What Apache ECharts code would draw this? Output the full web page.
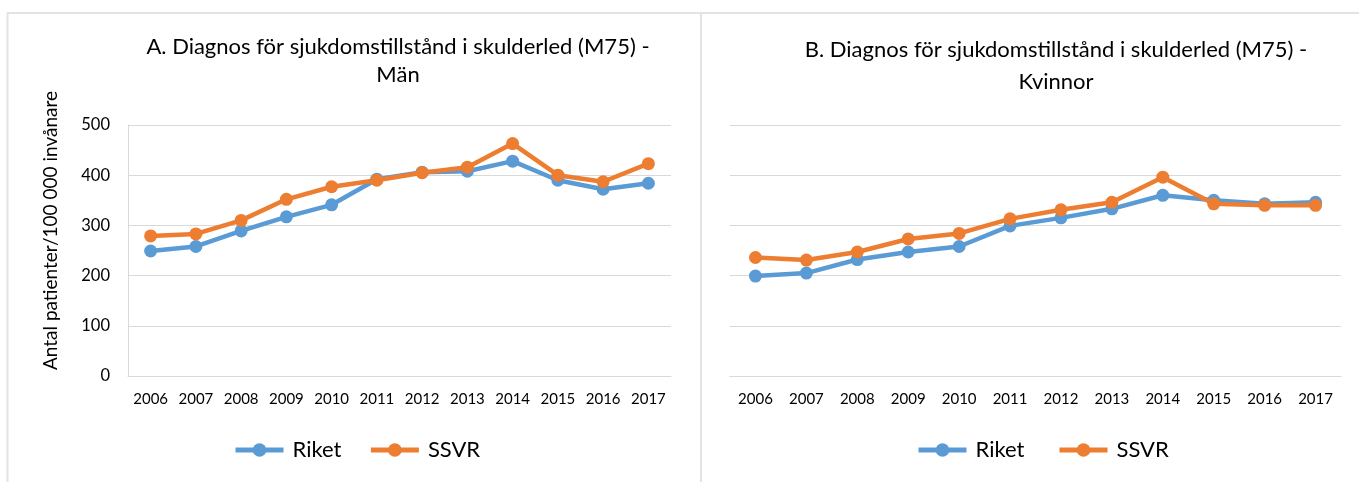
<!DOCTYPE html>
<html>
<head>
<meta charset="utf-8">
<script src="https://cdn.jsdelivr.net/npm/echarts@6/dist/echarts.min.js"></script>
<style>
html,body{margin:0;padding:0;background:#fff;}
#chart{width:1359px;height:482px;}
</style>
</head>
<body>
<div id="chart"></div>
<script>
var years = ['2006','2007','2008','2009','2010','2011','2012','2013','2014','2015','2016','2017'];
var menRiket = [249, 258, 289, 317, 341, 392, 406, 408, 428, 390, 372, 384];
var menSSVR  = [279, 283, 310, 352, 377, 390, 405, 416, 463, 400, 387, 423];
var womenRiket = [199, 205, 232, 247, 258, 299, 315, 333, 360, 350, 343, 346];
var womenSSVR  = [236, 231, 247, 273, 284, 313, 331, 346, 396, 343, 340, 340];
var yTicks = [0, 100, 200, 300, 400, 500];
var titleA = 'A. Diagnos för sjukdomstillstånd i skulderled (M75) -\nMän';
var titleB = 'B. Diagnos för sjukdomstillstånd i skulderled (M75) -\nKvinnor';
var yName = 'Antal patienter/100 000 invånare';

var FONT = 'Lato';
var BLUE = '#5B9BD5', ORANGE = '#ED7D31', GRID = '#d9d9d9';

function xAx(i){
  return {
    type:'category', gridIndex:i, data: years, boundaryGap:true,
    axisLine:{show:true, lineStyle:{color:GRID, width:1}},
    axisTick:{show:false},
    axisLabel:{color:'#000', fontFamily:FONT, fontSize:15, margin:16, interval:0, hideOverlap:false}
  };
}
function yAx(i, showLabels){
  return {
    type:'value', gridIndex:i, min:yTicks[0], max:yTicks[yTicks.length-1], interval:100,
    axisLine:{show:showLabels, lineStyle:{color:GRID, width:1}},
    axisTick:{show:false},
    splitLine:{show:true, lineStyle:{color:GRID, width:1}},
    axisLabel:{show:showLabels, color:'#000', fontFamily:FONT, fontSize:16.5, margin:18,
      formatter:function(v){return yTicks.indexOf(v)>=0 ? String(v) : '';}},
    name: showLabels ? yName : '',
    nameLocation:'middle', nameGap:68, nameRotate:90,
    nameTextStyle:{color:'#000', fontFamily:FONT, fontSize:19, padding:[0,0,0,40]}
  };
}
function ser(name, data, color, i){
  return {
    name:name, type:'line', xAxisIndex:i, yAxisIndex:i, data:data,
    symbol:'circle', symbolSize:13, showSymbol:true,
    lineStyle:{color:color, width:4.5},
    itemStyle:{color:color},
    emphasis:{disabled:true}, animation:false, z: name.trim()==='SSVR'?3:2
  };
}

var legendCommon = {
  orient:'horizontal', padding:0, itemWidth:48, itemHeight:17, itemGap:27,
  lineStyle:{width:5},
  textStyle:{fontFamily:FONT, fontSize:22, color:'#000', padding:[0,0,0,4]}
};

var chart = echarts.init(document.getElementById('chart'), null, {renderer:'canvas'});
chart.setOption({
  backgroundColor:'#fff',
  animation:false,
  title:[
    {text:titleA, left:398, top:33, textAlign:'center', padding:0,
     textStyle:{fontFamily:FONT, fontSize:22, fontWeight:'normal', color:'#000', lineHeight:28}},
    {text:titleB, left:1056, top:34, textAlign:'center', padding:0,
     textStyle:{fontFamily:FONT, fontSize:22, fontWeight:'normal', color:'#000', lineHeight:32}}
  ],
  legend:[
    Object.assign({data:['Riket','SSVR'], left:233, top:439}, legendCommon),
    Object.assign({data:['Riket ','SSVR '], left:916, top:439}, legendCommon)
  ],
  grid:[
    {left:128, right:688, top:125, bottom:106},
    {left:730, right:18, top:125, bottom:106}
  ],
  xAxis:[xAx(0), xAx(1)],
  yAxis:[yAx(0,true), yAx(1,false)],
  series:[
    ser('Riket', menRiket, BLUE, 0),
    ser('SSVR', menSSVR, ORANGE, 0),
    ser('Riket ', womenRiket, BLUE, 1),
    ser('SSVR ', womenSSVR, ORANGE, 1)
  ],
  graphic:[
    {type:'line', shape:{x1:7, y1:13, x2:1359, y2:13}, style:{stroke:'#e3e3e3', lineWidth:2}, silent:true},
    {type:'line', shape:{x1:7.5, y1:13, x2:7.5, y2:482}, style:{stroke:'#e3e3e3', lineWidth:2}, silent:true},
    {type:'line', shape:{x1:701, y1:13, x2:701, y2:482}, style:{stroke:'#e3e3e3', lineWidth:2}, silent:true}
  ]
});
</script>
</body>
</html>
